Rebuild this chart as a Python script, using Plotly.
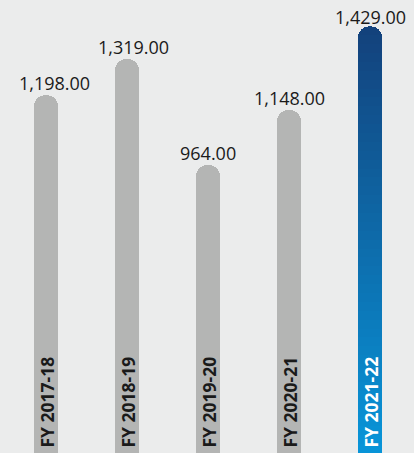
import plotly.graph_objects as go

categories = ["FY 2017-18", "FY 2018-19", "FY 2019-20", "FY 2020-21", "FY 2021-22"]
values = [1198.00, 1319.00, 964.00, 1148.00, 1429.00]
highlight_index = 4

BG = "#ebecec"
GRAY = "#b4b5b4"
TOP_COLOR = (19, 66, 124)
BOTTOM_COLOR = (8, 148, 216)
N_SEG = 48


def lerp(c1, c2, t):
    return "rgb(%d,%d,%d)" % tuple(round(a + (b - a) * t) for a, b in zip(c1, c2))


fig = go.Figure()

gray_vals = [v if i != highlight_index else None for i, v in enumerate(values)]
fig.add_trace(go.Bar(x=categories, y=gray_vals, marker=dict(color=GRAY, line=dict(width=0)),
                     hoverinfo="skip", showlegend=False))

# gradient bar drawn as stacked slices of the highlighted value
hv = values[highlight_index]
for k in range(N_SEG):
    t = k / (N_SEG - 1)
    seg = [None] * len(values)
    seg[highlight_index] = hv / N_SEG
    fig.add_trace(go.Bar(x=categories, y=seg,
                         marker=dict(color=lerp(BOTTOM_COLOR, TOP_COLOR, t), line=dict(width=0)),
                         hoverinfo="skip", showlegend=False))

label_xshift = [8, 6, 0, 0, 0]
label_yshift = [-2, -2, -2, -2, -5]
for i, (c, v) in enumerate(zip(categories, values)):
    fig.add_annotation(x=c, y=v, text=f"{v:,.2f}", showarrow=False, yanchor="bottom",
                       yshift=label_yshift[i], xshift=label_xshift[i],
                       font=dict(family="Open Sans", size=18, color="#1a1a1a"))
    fig.add_annotation(x=c, y=0, text=f"<b>{c}</b>", showarrow=False, textangle=-90,
                       yanchor="bottom", yshift=3,
                       font=dict(family="Open Sans", size=17.5,
                                 color="#ffffff" if i == highlight_index else "#1a1a1a"))

fig.update_layout(
    width=414, height=453,
    margin=dict(l=0, r=0, t=0, b=0),
    paper_bgcolor=BG, plot_bgcolor=BG,
    barmode="stack", bargap=0.704, barcornerradius=12,
    xaxis=dict(range=[-0.568, 4.543], visible=False, fixedrange=True),
    yaxis=dict(range=[0, 1517], visible=False, fixedrange=True),
)

fig.write_html("out.html", config={"displayModeBar": False, "staticPlot": True},
               post_script="document.body.style.margin='0';document.body.style.background='#ebecec';")
